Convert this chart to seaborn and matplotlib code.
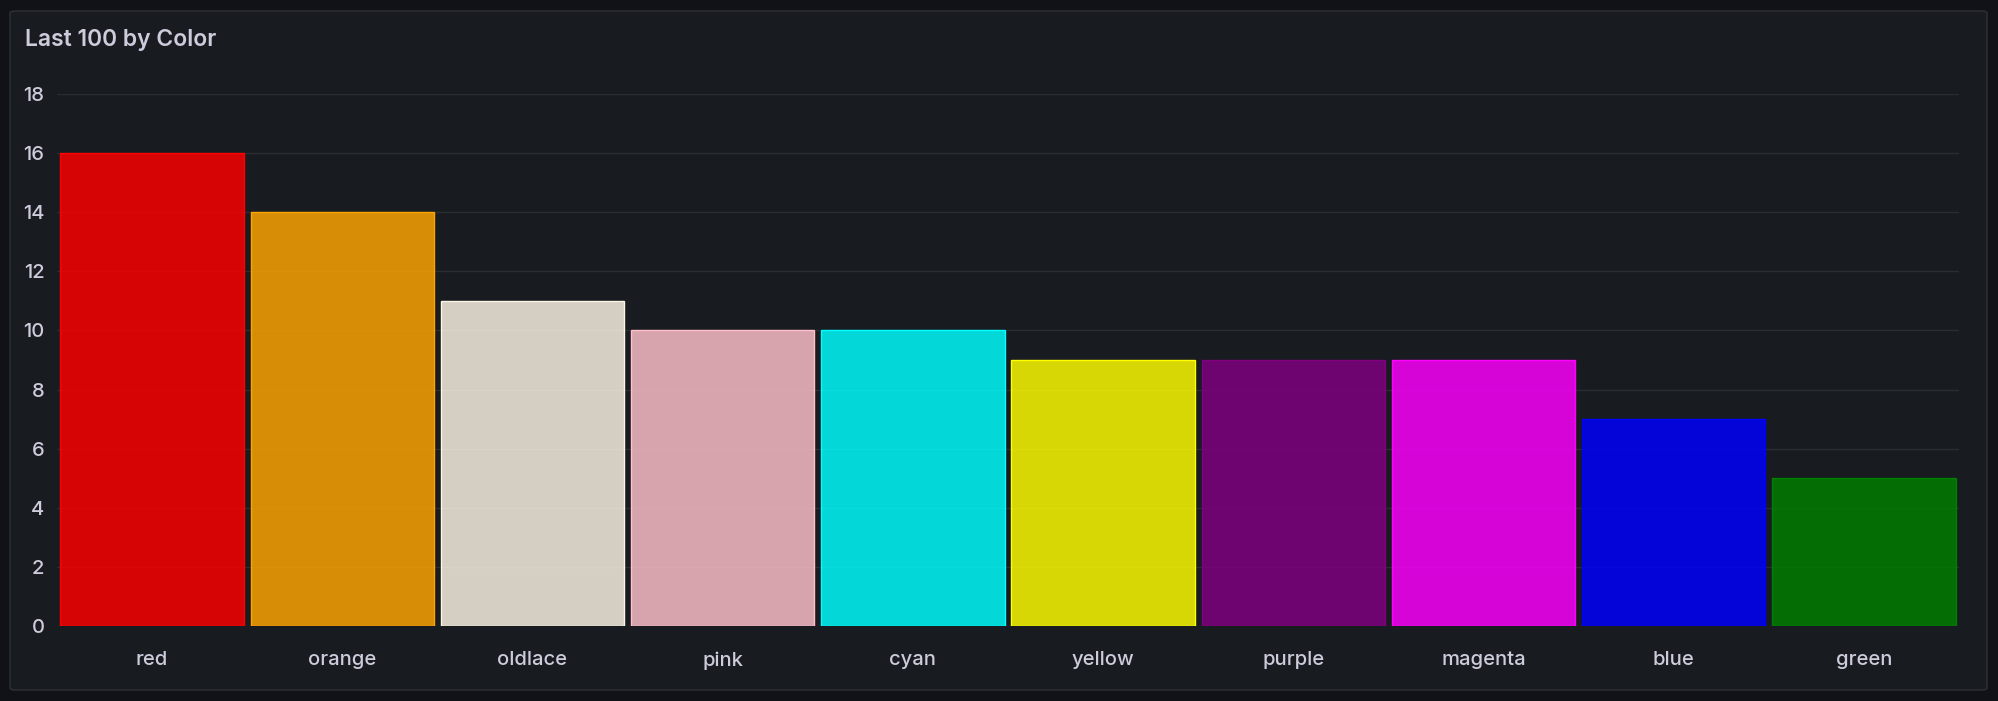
"""
Last 100 by Color — dark dashboard-style bar panel
"""
import matplotlib
matplotlib.use("Agg")
import matplotlib.pyplot as plt
import pandas as pd
import seaborn as sns
from matplotlib.patches import FancyBboxPatch

# ---------------------------------------------------------------------------
# Data
# ---------------------------------------------------------------------------
categories = ["red", "orange", "oldlace", "pink", "cyan",
              "yellow", "purple", "magenta", "blue", "green"]
counts = [16, 14, 11, 10, 10, 9, 9, 9, 7, 5]
bar_colors = ["#ff0000", "#ffa500", "#fdf5e6", "#ffc0cb", "#00ffff",
              "#ffff00", "#800080", "#ff00ff", "#0000ff", "#008000"]
y_ticks = [0, 2, 4, 6, 8, 10, 12, 14, 16, 18]
title = "Last 100 by Color"

# ---------------------------------------------------------------------------
# Style
# ---------------------------------------------------------------------------
OUTER_BG = "#111217"
PANEL_BG = "#181b1f"
PANEL_EDGE = "#2a2d33"
GRID = "#2a2d32"
TEXT = "#ccccdc"

sns.set_theme(style="dark")
plt.rcParams["font.family"] = ["Inter", "DejaVu Sans"]

W, H = 1999, 701
fig = plt.figure(figsize=(W / 100, H / 100), dpi=100, facecolor=OUTER_BG)

panel = FancyBboxPatch((10 / W, 11 / H), (1977 / W), (679 / H),
                       boxstyle="round,pad=0,rounding_size=0.003",
                       transform=fig.transFigure, facecolor=PANEL_BG,
                       edgecolor=PANEL_EDGE, linewidth=1.2, zorder=-1)
fig.patches.append(panel)

fig.text(25 / W, 1 - 40 / H, title, color=TEXT, fontsize=16.5,
         fontweight="semibold", va="center", ha="left")

ax_left, ax_right = 57, 1959
ax_top, ax_bottom = 94, 626
ax = fig.add_axes([ax_left / W, 1 - ax_bottom / H,
                   (ax_right - ax_left) / W, (ax_bottom - ax_top) / H])
ax.set_zorder(2)
ax.set_facecolor("none")

df = pd.DataFrame({"color": categories, "count": counts})
sns.barplot(data=df, x="color", y="count", hue="color", palette=bar_colors,
            legend=False, width=0.965, saturation=1, ax=ax, zorder=2)

for patch, c in zip(ax.patches, bar_colors):
    patch.set_facecolor(matplotlib.colors.to_rgba(c, 0.83))
    patch.set_edgecolor(c)
    patch.set_linewidth(1.0)

ax.set_ylim(0, 18)
ax.set_xlim(-0.5, len(categories) - 0.5)
ax.set_yticks(y_ticks)
ax.grid(axis="y", color=GRID, linewidth=1.0, zorder=0)
ax.grid(axis="x", visible=False)
ax.set_axisbelow(True)
for s in ax.spines.values():
    s.set_visible(False)
ax.tick_params(axis="y", length=0, pad=9, labelsize=14.5, labelcolor=TEXT)
ax.tick_params(axis="x", length=0, pad=18, labelsize=14.5, labelcolor=TEXT)
for lbl in ax.get_xticklabels() + ax.get_yticklabels():
    lbl.set_fontweight("medium")
ax.set_xlabel("")
ax.set_ylabel("")

fig.savefig("out.png", dpi=100, facecolor=OUTER_BG)
